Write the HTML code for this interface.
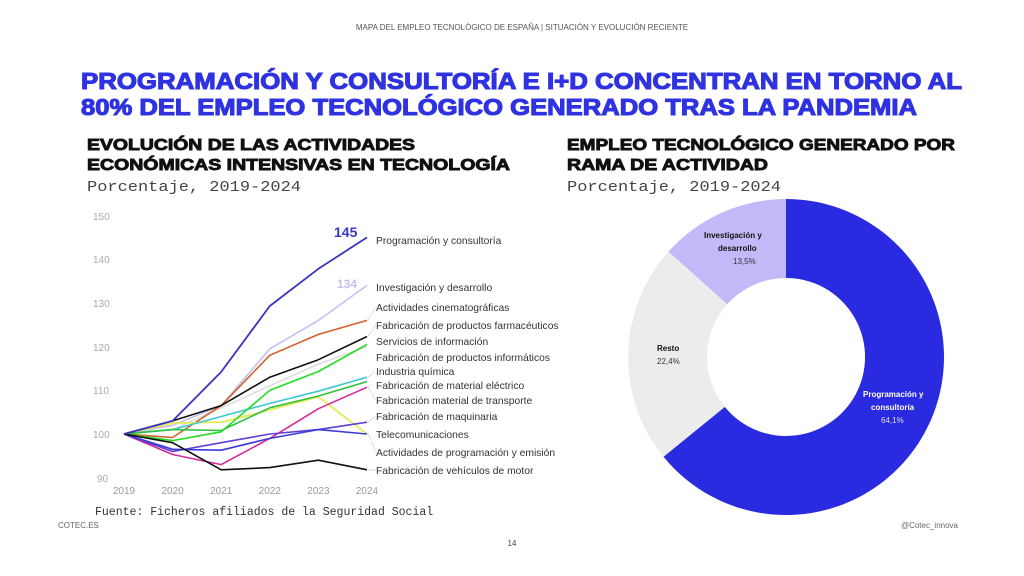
<!DOCTYPE html>
<html><head><meta charset="utf-8"><style>
html,body{margin:0;padding:0;background:#fff;}
svg{display:block;}
.t{font-family:"Liberation Sans",sans-serif;}
</style></head><body>
<svg width="1024" height="576" viewBox="0 0 1024 576" xmlns="http://www.w3.org/2000/svg">
<rect width="1024" height="576" fill="#fff"/>
<text class="t" x="522" y="30" font-size="8" fill="#555" text-anchor="middle">MAPA DEL EMPLEO TECNOLÓGICO DE ESPAÑA |  SITUACIÓN Y EVOLUCIÓN RECIENTE</text>
<g class="t" font-weight="900" fill="#2e32e0" stroke="#2e32e0" stroke-width="1.1" font-size="23">
<text x="81" y="89" textLength="881" lengthAdjust="spacingAndGlyphs">PROGRAMACIÓN Y CONSULTORÍA E I+D CONCENTRAN EN TORNO AL</text>
<text x="81" y="115" textLength="836" lengthAdjust="spacingAndGlyphs">80% DEL EMPLEO TECNOLÓGICO GENERADO TRAS LA PANDEMIA</text>
</g>
<g class="t" font-weight="900" fill="#111" stroke="#111" stroke-width="0.9" font-size="16">
<text x="87" y="150" textLength="328" lengthAdjust="spacingAndGlyphs">EVOLUCIÓN DE LAS ACTIVIDADES</text>
<text x="87" y="170" textLength="423" lengthAdjust="spacingAndGlyphs">ECONÓMICAS INTENSIVAS EN TECNOLOGÍA</text>
<text x="567" y="150" textLength="388" lengthAdjust="spacingAndGlyphs">EMPLEO TECNOLÓGICO GENERADO POR</text>
<text x="567" y="170" textLength="201" lengthAdjust="spacingAndGlyphs">RAMA DE ACTIVIDAD</text>
</g>
<g font-family="Liberation Mono,monospace" fill="#444" font-size="15">
<text x="87" y="191" textLength="214" lengthAdjust="spacingAndGlyphs">Porcentaje, 2019-2024</text>
<text x="567" y="191" textLength="214" lengthAdjust="spacingAndGlyphs">Porcentaje, 2019-2024</text>
</g>
<g class="t" font-size="10" fill="#aaa">
<text x="93" y="220">150</text><text x="93" y="263">140</text><text x="93" y="307">130</text>
<text x="93" y="351">120</text><text x="93" y="394">110</text><text x="93" y="438">100</text><text x="97" y="482">90</text>
</g>
<g class="t" font-size="10" fill="#999" text-anchor="middle">
<text x="124" y="494">2019</text><text x="172.6" y="494">2020</text><text x="221.2" y="494">2021</text>
<text x="269.8" y="494">2022</text><text x="318.4" y="494">2023</text><text x="367" y="494">2024</text>
</g>
<g fill="none" stroke-width="1.6" stroke-linejoin="round">
<polyline stroke="#dddddd" points="124,434 172.6,429.6 221.2,407.8 269.8,385.9 318.4,364.1 367,346.6"/>
<polyline stroke="#c4c0f2" points="124,434 172.6,425.3 221.2,405.6 269.8,348.8 318.4,320.4 367,285.4"/>
<polyline stroke="#d2602a" points="124,434 172.6,437.5 221.2,405.6 269.8,355.3 318.4,334.4 367,320.4"/>
<polyline stroke="#e6e84a" points="124,434 172.6,423.1 221.2,422.2 269.8,410 318.4,396.9 367,434"/>
<polyline stroke="#3fc8cf" points="124,434 172.6,429.6 221.2,416.5 269.8,403.4 318.4,391.2 367,377.2"/>
<polyline stroke="#30c040" points="124,434 172.6,429.6 221.2,430.5 269.8,407.8 318.4,396 367,381.6"/>
<polyline stroke="#22dd22" points="124,434 172.6,440.6 221.2,431.8 269.8,390.3 318.4,371.5 367,344.4"/>
<polyline stroke="#d42a9a" points="124,434 172.6,454.5 221.2,464.6 269.8,438.4 318.4,408.7 367,387.2"/>
<polyline stroke="#6040d0" points="124,434 172.6,451.5 221.2,442.7 269.8,434 318.4,429.6 367,422.2"/>
<polyline stroke="#3a3ad8" points="124,434 172.6,449.3 221.2,450.2 269.8,438.4 318.4,429.6 367,434"/>
<polyline stroke="#111" points="124,434 172.6,442.7 221.2,469.8 269.8,467.6 318.4,460.2 367,469.8"/>
<polyline stroke="#111" points="124,434 172.6,420.9 221.2,405.6 269.8,377.2 318.4,359.7 367,336.5"/>
<polyline stroke="#3a35c0" stroke-width="1.8" points="124,434 172.6,420.9 221.2,371.9 269.8,306 318.4,268.8 367,237.4"/>
</g>
<text class="t" x="334" y="237" font-size="14" font-weight="bold" fill="#3a35c0">145</text>
<text class="t" x="337" y="288" font-size="12" font-weight="bold" fill="#c4c0f2">134</text>
<g stroke="#999" stroke-width="0.7" stroke-dasharray="1,1.5" fill="none">
<path d="M368,320 L376,307"/><path d="M368,336 L376,325"/><path d="M368,377 L376,371"/>
<path d="M368,387 L376,400"/><path d="M368,422 L376,416"/><path d="M368,434 L376,452"/><path d="M368,470 L376,470"/>
</g>
<g class="t" font-size="10.3" fill="#333">
<text x="376" y="244">Programación y consultoría</text>
<text x="376" y="291">Investigación y desarrollo</text>
<text x="376" y="311">Actividades cinematográficas</text>
<text x="376" y="329">Fabricación de productos farmacéuticos</text>
<text x="376" y="345">Servicios de información</text>
<text x="376" y="361">Fabricación de productos informáticos</text>
<text x="376" y="375">Industria química</text>
<text x="376" y="389">Fabricación de material eléctrico</text>
<text x="376" y="404">Fabricación material de transporte</text>
<text x="376" y="420">Fabricación de maquinaria</text>
<text x="376" y="438">Telecomunicaciones</text>
<text x="376" y="456">Actividades de programación y emisión</text>
<text x="376" y="474">Fabricación de vehículos de motor</text>
</g>
<text x="95" y="515" font-family="Liberation Mono,monospace" font-size="11.5" fill="#333">Fuente: Ficheros afiliados de la Seguridad Social</text>
<text class="t" x="58" y="528" font-size="8" fill="#666">COTEC.ES</text>
<text class="t" x="958" y="528" font-size="8" fill="#666" text-anchor="end">@Cotec_innova</text>
<text class="t" x="512" y="546" font-size="8" fill="#444" text-anchor="middle">14</text>
<g>
<path d="M786,199 A158,158 0 1 1 663.5,456.8 L724.8,406.9 A79,79 0 1 0 786,278 Z" fill="#2a2ae0"/>
<path d="M663.5,456.8 A158,158 0 0 1 668.5,251.6 L727.2,304.3 A79,79 0 0 0 724.8,406.9 Z" fill="#ececec"/>
<path d="M668.5,251.6 A158,158 0 0 1 786,199 L786,278 A79,79 0 0 0 727.2,304.3 Z" fill="#c2baf8"/>
</g>
<g class="t" font-size="8">
<text x="704" y="238" font-weight="bold" fill="#111">Investigación y</text>
<text x="718" y="251" font-weight="bold" fill="#111">desarrollo</text>
<text x="733" y="264" fill="#333">13,5%</text>
<text x="657" y="351" font-weight="bold" fill="#111">Resto</text>
<text x="657" y="364" fill="#333">22,4%</text>
<text x="863" y="397" font-weight="bold" fill="#fff">Programación y</text>
<text x="871" y="410" font-weight="bold" fill="#fff">consultoría</text>
<text x="881" y="423" fill="#ddd">64,1%</text>
</g>
</svg>
</body></html>
